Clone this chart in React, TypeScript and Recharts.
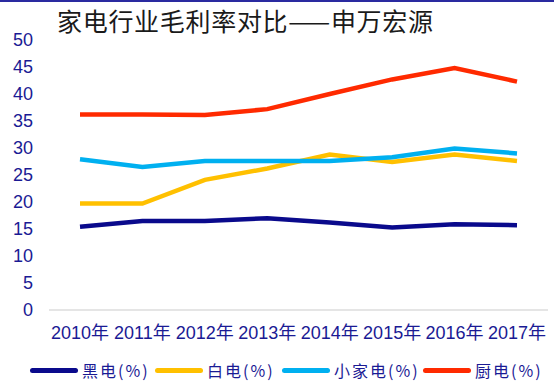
import React from "react";
import { LineChart, Line, XAxis, YAxis, Legend } from "recharts";

// 家电行业毛利率对比（申万宏源），单位 %
const years = ["2010年", "2011年", "2012年", "2013年", "2014年", "2015年", "2016年", "2017年"];
const heidian = [15.4, 16.5, 16.5, 17.0, 16.2, 15.3, 15.9, 15.7];
const baidian = [19.7, 19.7, 24.1, 26.2, 28.8, 27.4, 28.8, 27.6];
const xiaojiadian = [27.9, 26.5, 27.6, 27.6, 27.6, 28.3, 29.9, 29.0];
const chudian = [36.2, 36.2, 36.1, 37.2, 40.0, 42.7, 44.8, 42.3];
const yTicks = [0, 5, 10, 15, 20, 25, 30, 35, 40, 45, 50];

const data = years.map((y, i) => ({
  year: y,
  hei: heidian[i],
  bai: baidian[i],
  xiao: xiaojiadian[i],
  chu: chudian[i],
}));

const SERIES = [
  { key: "hei", name: "黑电(%)", color: "#0A0A8C", width: 125 },
  { key: "bai", name: "白电(%)", color: "#FFC000", width: 127 },
  { key: "xiao", name: "小家电(%)", color: "#00B0F0", width: 141 },
  { key: "chu", name: "厨电(%)", color: "#FF2A00", width: 124 },
];

const INK = "#1A1A94";
const FONT = "'Liberation Sans', Arial, 'Noto Sans CJK SC', sans-serif";

function LegendRow() {
  return (
    <div style={{ display: "flex", alignItems: "center", height: 40, paddingLeft: 30, boxSizing: "border-box" }}>
      {SERIES.map((s) => (
        <div key={s.key} style={{ display: "flex", alignItems: "center", width: s.width }}>
          <div style={{ width: 48, height: 5, borderRadius: 3, background: s.color }} />
          <span
            style={{
              marginLeft: 4,
              fontFamily: "'Noto Sans CJK SC', sans-serif",
              fontSize: 16,
              letterSpacing: 2,
              color: INK,
              whiteSpace: "nowrap",
            }}
          >
            {s.name}
          </span>
        </div>
      ))}
    </div>
  );
}

export default function App() {
  return (
    <div
      style={{
        position: "absolute",
        top: 0,
        left: 0,
        width: 554,
        height: 390,
        background: "#fff",
        borderTop: "2px solid #2A2AA0",
        boxSizing: "border-box",
      }}
    >
      <div
        style={{
          position: "absolute",
          top: 3,
          left: 57,
          fontFamily: "'Noto Sans CJK SC', sans-serif",
          fontSize: 25,
          letterSpacing: 0.7,
          lineHeight: "30px",
          color: "#1a1a1a",
          whiteSpace: "nowrap",
        }}
      >
        家电行业毛利率对比——申万宏源
      </div>
      <div style={{ position: "absolute", top: -2, left: 0 }}>
        <LineChart width={554} height={390} data={data} margin={{ top: 40, right: 6, left: 0, bottom: 0 }}>
          <XAxis
            dataKey="year"
            interval={0}
            padding={{ left: 31, right: 31 }}
            tickLine={false}
            tickSize={8}
            tickMargin={8}
            height={40}
            axisLine={{ stroke: "#DCDCDC", strokeWidth: 1.5 }}
            tick={{ fill: INK, fontSize: 18, fontFamily: FONT }}
          />
          <YAxis
            domain={[0, 50]}
            ticks={yTicks}
            width={49}
            axisLine={false}
            tickLine={false}
            tickSize={8}
            tickMargin={8}
            tick={{ fill: INK, fontSize: 18, fontFamily: FONT }}
          />
          <Legend verticalAlign="bottom" content={() => <LegendRow />} />
          {SERIES.map((s) => (
            <Line
              key={s.key}
              dataKey={s.key}
              name={s.name}
              stroke={s.color}
              strokeWidth={4.5}
              dot={false}
              type="linear"
              isAnimationActive={false}
            />
          ))}
        </LineChart>
      </div>
    </div>
  );
}
